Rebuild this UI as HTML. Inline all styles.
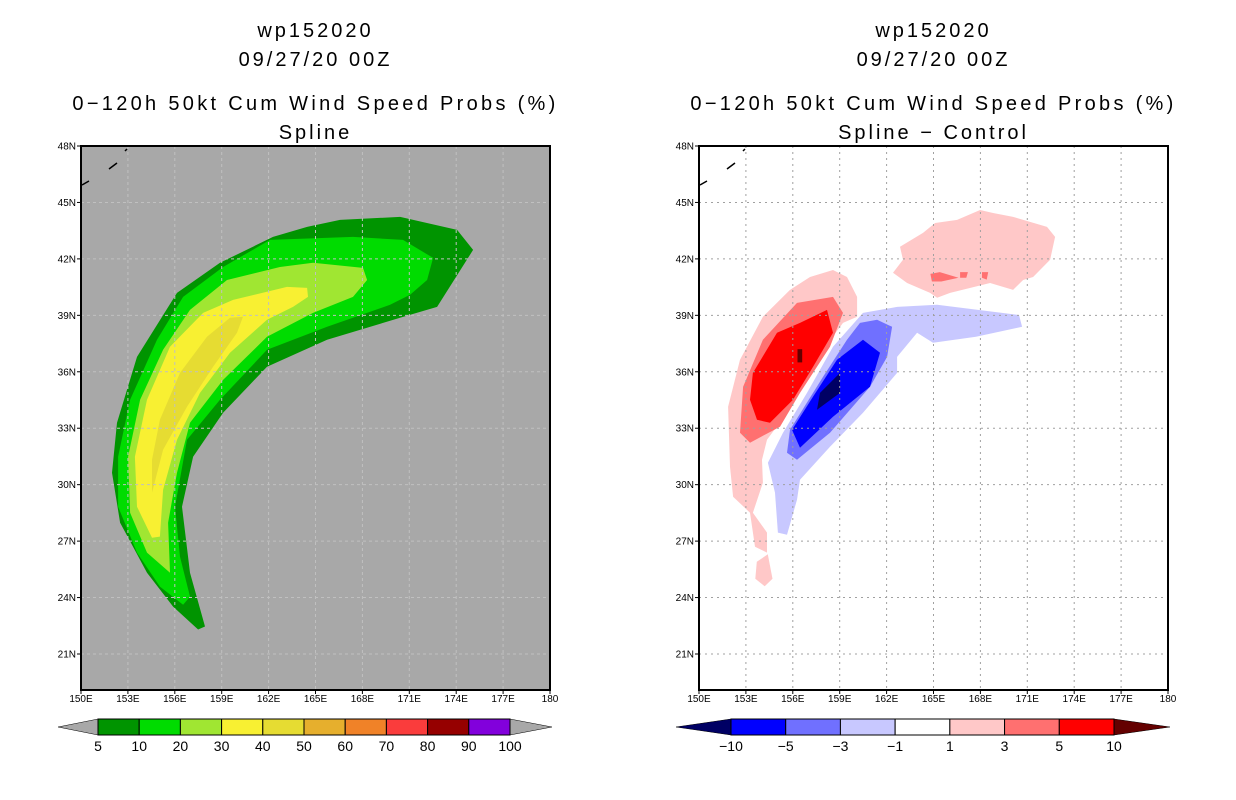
<!DOCTYPE html>
<html><head><meta charset="utf-8"><style>
body{margin:0;background:#fff;width:1236px;height:800px;overflow:hidden;font-family:"Liberation Sans",sans-serif}
svg{display:block}
</style></head><body>
<svg id="svg" width="1236" height="800" xmlns="http://www.w3.org/2000/svg"></svg>
<script>
const lonTicks=[150,153,156,159,162,165,168,171,174,177,180];
const latTicks=[21,24,27,30,33,36,39,42,45,48];
const probLevels=["5","10","20","30","40","50","60","70","80","90","100"];
const probColors=["#009400","#00dc00","#a0e632","#f8f032","#e6dc32","#e6af2d","#f08228","#fa3c3c","#960000","#8200dc"];
const diffLevels=["-10","-5","-3","-1","1","3","5","10"];
const diffColors=["#0000ff","#7070ff","#c8c8ff","#ffffff","#ffc8c8","#ff7070","#ff0000"];
// contour polygons [lon,lat]
const prob5=[[166.57,44.07],[170.41,44.23],[174.06,43.54],[175.08,42.48],[172.78,39.45],[170.41,38.87],[165.74,37.7],[161.9,36.27],[159.09,33.82],[157.17,31.48],[156.46,28.83],[156.97,25.32],[157.93,22.46],[157.49,22.3],[155.89,23.52],[154.22,25.32],[152.5,27.98],[151.98,30.63],[152.3,33.29],[153.58,36.79],[156.14,40.19],[158.89,41.79],[162.28,43.17],[164.46,43.7]];
const prob10=[[159.09,41.57],[162.09,43.01],[167.4,43.17],[170.6,43.01],[172.52,42.05],[172.14,40.88],[171.05,40.09],[169.77,39.56],[165.74,38.39],[161.9,37.17],[158.89,34.51],[156.78,32.39],[156.01,28.83],[156.33,26.17],[156.97,24.05],[156.53,23.62],[155.05,24.58],[153.58,26.39],[152.37,28.83],[152.37,31.48],[153.14,34.51],[154.86,37.7],[156.53,39.98]];
const prob20=[[159.34,40.88],[162.73,41.57],[164.84,41.79],[168.04,41.52],[168.3,40.88],[167.4,39.98],[164.84,39.13],[161.9,37.86],[159.09,35.57],[156.97,33.29],[156.14,30.63],[155.57,27.98],[155.69,25.32],[154.22,26.39],[153.14,28.51],[153.01,31.48],[153.78,34.51],[155.25,37.17],[156.97,39.29]];
const prob30=[[159.73,39.82],[163.18,40.51],[164.46,40.46],[164.52,39.98],[163.56,39.45],[161.9,38.76],[159.53,37.01],[157.61,34.88],[156.14,32.39],[155.25,29.73],[155.05,27.24],[154.54,27.18],[153.58,28.83],[153.45,31.48],[154.22,34.51],[155.69,37.33],[157.81,39.13]];
const prob40=[[160.36,38.92],[159.98,38.07],[158.45,36.27],[156.78,34.14],[155.25,31.86],[154.54,29.57],[154.54,31.32],[155.05,33.45],[156.33,35.94],[158.06,37.86],[159.53,38.87]];
const pos1=[[158.57,41.41],[159.47,41.04],[160.11,39.98],[160.11,38.92],[159.21,38.6],[157.93,37.17],[156.91,35.73],[155.63,33.82],[154.35,32.39],[154.03,31.32],[154.09,30.1],[153.45,28.51],[154.35,27.45],[154.35,26.39],[153.58,26.7],[153.26,28.51],[152.18,29.36],[151.98,30.95],[151.86,34.14],[152.62,36.64],[154.09,38.92],[155.82,40.35],[157.1,41.04]];
const pos1b=[[153.7,25.9],[154.4,26.3],[154.7,25.0],[154.2,24.6],[153.6,25.0]];
const pos1n=[[162.86,42.64],[164.33,43.38],[165.1,43.91],[166.51,44.07],[167.98,44.6],[168.81,44.44],[170.09,44.23],[172.26,43.7],[172.78,43.17],[172.46,41.95],[171.37,41.04],[170.73,40.88],[170.09,40.35],[168.62,40.72],[166.06,40.19],[165.23,39.93],[164.78,40.19],[163.31,40.72],[162.41,41.26],[163.05,41.95]];
const pos3=[[158.57,39.98],[159.21,39.13],[158.38,37.33],[156.46,34.88],[155.18,33.08],[153.26,32.23],[152.62,32.76],[152.82,35.2],[154.09,37.7],[156.27,39.66]];
const pos3n1=[[164.8,41.2],[165.4,41.3],[166.6,41.0],[165.5,40.8],[164.9,40.8]];
const pos3n2=[[166.7,41.3],[167.2,41.3],[167.1,41.0],[166.7,41.0]];
const pos3n3=[[168.1,41.3],[168.5,41.3],[168.4,40.9],[168.1,41.0]];
const pos5=[[158.19,39.29],[158.57,38.07],[157.29,36.26],[156.01,34.51],[154.54,33.29],[153.71,33.45],[153.26,34.51],[153.45,35.94],[154.99,38.07],[156.46,38.6]];
const pos10=[[156.3,37.2],[156.6,37.2],[156.6,36.5],[156.3,36.5]];
const neg1=[[160.49,39.13],[162.67,39.45],[165.23,39.56],[170.47,39.02],[170.67,38.39],[167.72,37.86],[164.97,37.54],[163.95,38.07],[162.67,36.79],[162.67,35.94],[160.49,33.82],[158.38,32.01],[156.46,30.26],[156.27,29.2],[155.63,27.34],[155.05,27.45],[154.86,29.57],[154.41,31.16],[155.37,32.76],[156.91,34.88],[158.57,37.33]];
const neg3=[[161.39,38.76],[162.35,38.39],[162.03,36.79],[160.94,35.2],[158.38,32.76],[156.27,31.32],[155.63,31.7],[155.82,32.92],[157.93,35.73],[159.47,37.7],[160.3,38.6]];
const neg5=[[160.49,37.7],[161.58,37.01],[160.94,35.2],[158.57,33.61],[156.46,31.96],[155.95,32.92],[157.29,34.67],[158.83,36.64]];
const neg10=[[159.02,35.94],[159.02,34.88],[157.55,33.98],[157.74,34.88],[158.57,35.57]];

const NS="http://www.w3.org/2000/svg";
const svg=document.getElementById('svg');
function mk(tag,attrs,parent){const e=document.createElementNS(NS,tag);for(const k in attrs)e.setAttribute(k,attrs[k]);(parent||svg).appendChild(e);return e;}
const PY0=146,PY1=690;
function yS(lat){return PY0+(48-lat)*(508/27);}
function makeX(x0){return lon=>x0+(lon-150)*(469/30);}
function poly(pts,x,fill,name,g){const p=mk('polygon',{points:pts.map(q=>x(q[0]).toFixed(1)+','+yS(q[1]).toFixed(1)).join(' '),fill:fill},g);

}
function txt(s,x,y,size,anchor,name,g){const t=mk('text',{x:x,y:y,'font-size':size,'text-anchor':anchor||'middle',fill:'#000','font-family':'"Liberation Sans",sans-serif'},g);t.textContent=s;

return t;}

function panel(x0,bg,sub,layers,gridDash,gridCol,prefix){
  const x=makeX(x0);const X1=x(180);
  const g=mk('g',{});
  
  
  const cx=(x0+X1)/2;
  txt('wp152020',cx,37,20,'middle',prefix+'-title-storm',g).setAttribute('letter-spacing','3');
  txt('09/27/20 00Z',cx,66,20,'middle',prefix+'-title-date',g).setAttribute('letter-spacing','3');
  txt('0\u2212120h 50kt Cum Wind Speed Probs (%)',cx,110,20,'middle',prefix+'-title-main',g).setAttribute('letter-spacing','3.3');
  txt(sub,cx,139,20,'middle',prefix+'-subtitle',g).setAttribute('letter-spacing','3');
  const bgr=mk('rect',{x:x0,y:PY0,width:X1-x0,height:PY1-PY0,fill:bg},g);
  
  
  layers.forEach(l=>poly(l[0],x,l[1],l[2],g));
  for(const lo of lonTicks.slice(1,-1)){const l=mk('line',{x1:x(lo),x2:x(lo),y1:PY0,y2:PY1,stroke:gridCol,'stroke-width':1,'stroke-dasharray':gridDash},g);
    
    }
  for(const la of latTicks){if(la===48)continue;const l=mk('line',{x1:x0,x2:X1,y1:yS(la),y2:yS(la),stroke:gridCol,'stroke-width':1,'stroke-dasharray':gridDash},g);
    
    }
  const fr=mk('rect',{x:x0,y:PY0,width:X1-x0,height:PY1-PY0,fill:'none',stroke:'#000','stroke-width':2},g);
  
  
  mk('path',{d:`M${x0+28} ${PY0+23} L${x0+36} ${PY0+17} M${x0+44} ${PY0+5} L${x0+46} ${PY0+3} M${x0+1} ${PY0+39} L${x0+8} ${PY0+35}`,stroke:'#000','stroke-width':1.5,fill:'none'},g);
  for(const lo of lonTicks){mk('line',{x1:x(lo),x2:x(lo),y1:PY1,y2:PY1+4,stroke:'#000'},g);
    txt(lo===180?'180':lo+'E',x(lo),PY1+12,10,'middle',prefix+'-x-tick-label',g);}
  for(const la of latTicks){mk('line',{x1:x0-4,x2:x0,y1:yS(la),y2:yS(la),stroke:'#000'},g);
    txt(la+'N',x0-5,yS(la)+3.5,10,'end',prefix+'-y-tick-label',g);}
  return g;
}
panel(81,'#a8a8a8','Spline',[[prob5,probColors[0],'prob-5-10'],[prob10,probColors[1],'prob-10-20'],[prob20,probColors[2],'prob-20-30'],[prob30,probColors[3],'prob-30-40'],[prob40,probColors[4],'prob-40-50']],'3,3','#c0c0c0','left');
panel(699,'#ffffff','Spline \u2212 Control',[[pos1,diffColors[4],'diff-pos-1-3'],[pos1b,diffColors[4],'diff-pos-1-3-south'],[pos1n,diffColors[4],'diff-pos-1-3-north'],[pos3n1,diffColors[5],'diff-pos-3-5-north'],[pos3n2,diffColors[5],'diff-pos-3-5-north'],[pos3n3,diffColors[5],'diff-pos-3-5-north'],[pos3,diffColors[5],'diff-pos-3-5'],[pos5,diffColors[6],'diff-pos-5-10'],[pos10,'#640000','diff-pos-gt10'],[neg1,diffColors[2],'diff-neg-1-3'],[neg3,diffColors[1],'diff-neg-3-5'],[neg5,diffColors[0],'diff-neg-5-10'],[neg10,'#000064','diff-neg-lt10']],'2,4','#a0a0a0','right');

function colorbar(x0,x1,tl,tr,cols,labels,lcol,rcol,prefix){
  const g=mk('g',{});
  
  
  const y0=719,y1=735,ym=727,w=(x1-x0)/cols.length;
  mk('polygon',{points:`${tl},${ym} ${x0},${y0} ${x0},${y1}`,fill:lcol,stroke:'#000','stroke-width':0.5},g);
  mk('polygon',{points:`${tr},${ym} ${x1},${y0} ${x1},${y1}`,fill:rcol,stroke:'#000','stroke-width':0.5},g);
  cols.forEach((c,i)=>{const r=mk('rect',{x:x0+i*w,y:y0,width:w,height:y1-y0,fill:c,stroke:'#000','stroke-width':1},g);
    
    });
  labels.forEach((s,i)=>txt(s.replace('-','\u2212'),x0+i*w,751,14,'middle',prefix+'-colorbar-label',g));
}
colorbar(98,510,58,552,probColors,probLevels,'#a8a8a8','#a8a8a8','left');
colorbar(731,1114,676,1170,diffColors,diffLevels,'#000064','#640000','right');
</script>
</body></html>
